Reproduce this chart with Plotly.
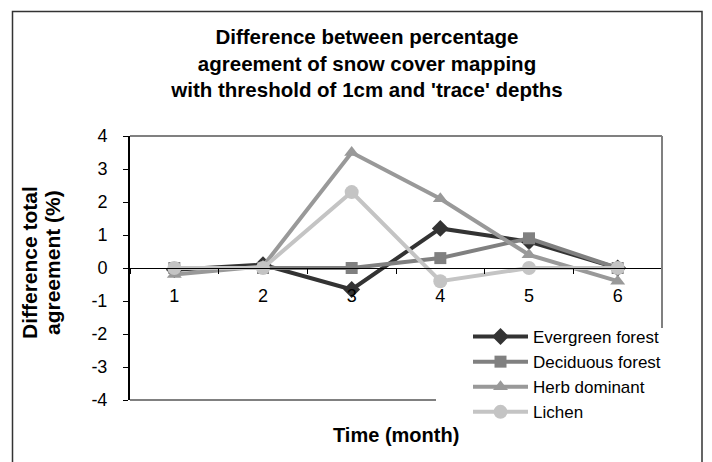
import plotly.graph_objects as go

months = ["1", "2", "3", "4", "5", "6"]
evergreen = [-0.05, 0.1, -0.65, 1.2, 0.8, 0.0]
deciduous = [0.0, 0.0, 0.0, 0.3, 0.9, 0.0]
herb = [-0.2, 0.05, 3.5, 2.1, 0.4, -0.4]
lichen = [0.0, 0.0, 2.3, -0.4, 0.0, 0.0]
y_ticks = [-4, -3, -2, -1, 0, 1, 2, 3, 4]
y_tick_labels = ["-4", "-3", "-2", "-1", "0", "1", "2", "3", "4"]

series = [
    ("Evergreen forest", evergreen, "#333333", "diamond", 13),
    ("Deciduous forest", deciduous, "#808080", "square", 12),
    ("Herb dominant", herb, "#999999", "triangle-up", 13),
    ("Lichen", lichen, "#c4c4c4", "circle", 14),
]

FONT = "Liberation Sans, Arial, sans-serif"
W, H = 712, 462
L, R, T, B = 130, 662, 136, 400  # plot area in px

def px(xp):
    return (xp - L) / (R - L)

def py(yp):
    return (B - yp) / (B - T)

fig = go.Figure()
for name, vals, color, sym, size in series:
    fig.add_trace(go.Scatter(
        x=months, y=vals, name=name, mode="lines+markers",
        line=dict(color=color, width=4),
        marker=dict(symbol=sym, size=size, color=color),
    ))

shapes = [
    dict(type="rect", xref="paper", yref="paper", x0=px(12.5), x1=px(702), y0=py(480), y1=py(11.5),
         line=dict(color="#333333", width=1.5), layer="below"),
    dict(type="line", xref="paper", yref="paper", x0=0, x1=1, y0=1, y1=1,
         line=dict(color="#808080", width=2)),
    dict(type="line", xref="paper", yref="paper", x0=1, x1=1, y0=1, y1=py(328),
         line=dict(color="#808080", width=2)),
    dict(type="line", xref="paper", yref="paper", x0=0, x1=px(436), y0=0, y1=0,
         line=dict(color="#808080", width=2)),
]

annotations = [
    dict(text="<b>Difference total</b>", textangle=-90, xref="paper", yref="paper",
         x=px(29), y=py(263), xanchor="center", yanchor="middle", showarrow=False,
         font=dict(family=FONT, size=21, color="#000000")),
    dict(text="<b>agreement (%)</b>", textangle=-90, xref="paper", yref="paper",
         x=px(52), y=py(263), xanchor="center", yanchor="middle", showarrow=False,
         font=dict(family=FONT, size=21, color="#000000")),
    dict(text="<b>Time (month)</b>", xref="paper", yref="paper",
         x=px(396), y=py(435), xanchor="center", yanchor="middle", showarrow=False,
         font=dict(family=FONT, size=20, color="#000000")),
]

fig.update_layout(
    width=W, height=H,
    margin=dict(l=L, r=W - R, t=T, b=H - B, pad=0),
    paper_bgcolor="white", plot_bgcolor="white",
    font=dict(family=FONT, size=17, color="#000000"),
    title=dict(
        text="<b>Difference between percentage<br>agreement of snow cover mapping<br>with threshold of 1cm and 'trace' depths</b>",
        x=367 / W, xanchor="center", y=1 - 44 / H, yanchor="top",
        font=dict(family=FONT, size=20.5, color="#000000"),
    ),
    xaxis=dict(
        type="category", range=[-0.5, 5.5], anchor="free", position=0.5,
        showline=True, linecolor="#000000", linewidth=1,
        ticks="outside", ticklen=5, tickcolor="#000000", tickwidth=1,
        tickson="boundaries", showgrid=False, zeroline=False,
        tickfont=dict(family=FONT, size=18), ticklabelstandoff=11,
    ),
    yaxis=dict(
        range=[-4, 4], tickvals=y_ticks, ticktext=y_tick_labels,
        showline=True, linecolor="#000000", linewidth=2,
        ticks="outside", ticklen=5, tickcolor="#000000", tickwidth=1,
        showgrid=False, zeroline=False,
        tickfont=dict(family=FONT, size=18), ticklabelstandoff=12,
    ),
    legend=dict(
        x=px(468), y=py(319), xanchor="left", yanchor="top",
        bgcolor="rgba(0,0,0,0)", font=dict(family=FONT, size=17),
        itemwidth=55, tracegroupgap=0,
    ),
    shapes=shapes,
    annotations=annotations,
    showlegend=True,
)

fig.write_html("out.html")
